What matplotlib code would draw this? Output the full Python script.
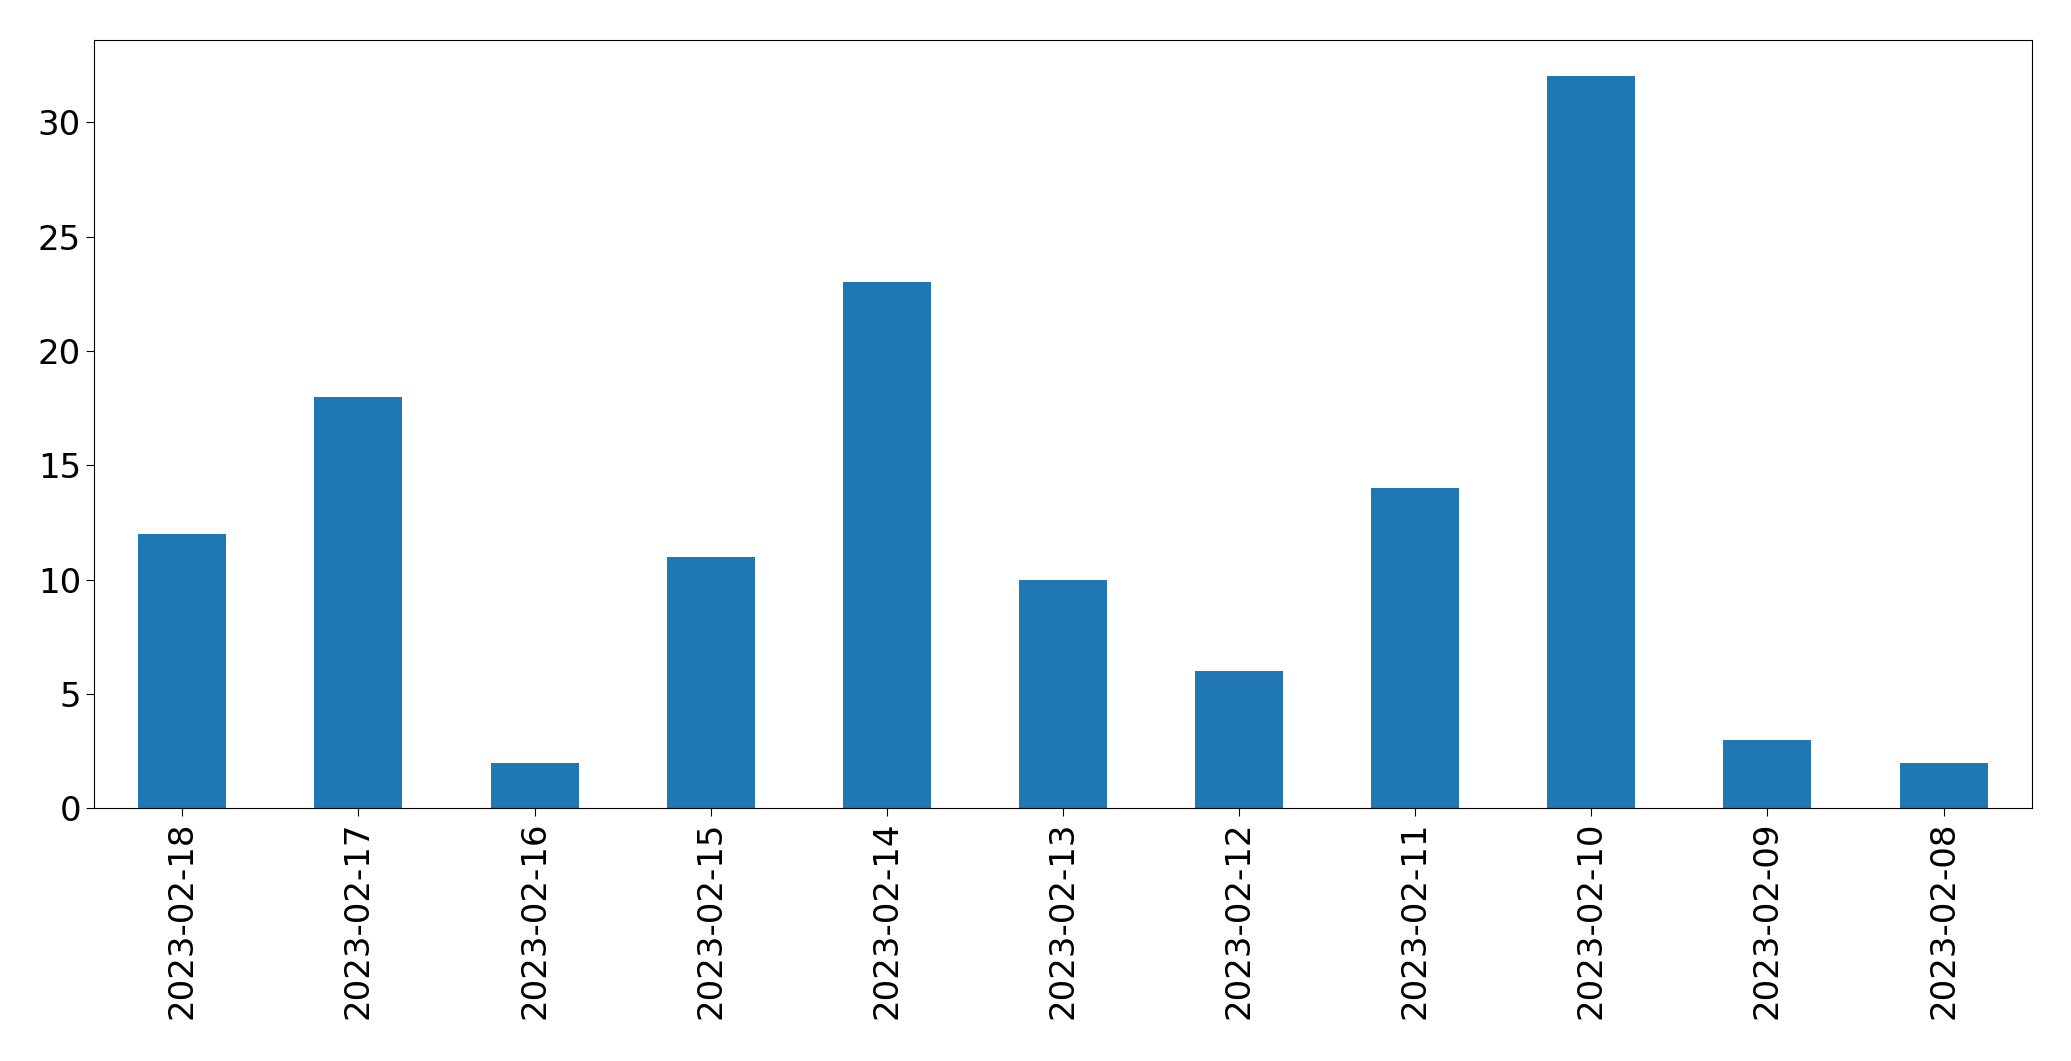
import matplotlib
matplotlib.use("Agg")
import matplotlib.pyplot as plt

# daily counts, newest first
dates = ["2023-02-18", "2023-02-17", "2023-02-16", "2023-02-15", "2023-02-14",
         "2023-02-13", "2023-02-12", "2023-02-11", "2023-02-10", "2023-02-09",
         "2023-02-08"]
counts = [12, 18, 2, 11, 23, 10, 6, 14, 32, 3, 2]

BLUE = "#1f77b4"

fig = plt.figure(figsize=(20.71, 10.61), dpi=100)
ax = fig.add_axes([0.0455, 0.238, 0.9355, 0.7245])

x = range(len(dates))
ax.bar(x, counts, width=0.5, color=BLUE)
ax.set_xlim(-0.5, len(dates) - 0.5)
ax.set_xticks(list(x))
ax.set_xticklabels(dates, rotation=90)
ax.tick_params(axis="both", labelsize=24.5, length=6)

fig.savefig("out.png", dpi=100, facecolor="white")
plt.close(fig)
